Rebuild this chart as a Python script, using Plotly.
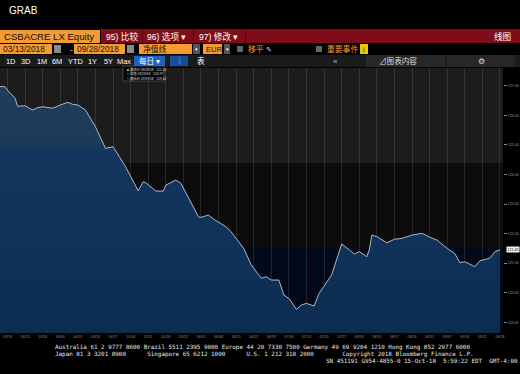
import plotly.graph_objects as go

# ---------------- data ----------------
dates = ["2018-03-13", "2018-03-15", "2018-03-16", "2018-03-19", "2018-03-20", "2018-03-23",
         "2018-03-26", "2018-03-28", "2018-03-30", "2018-04-03", "2018-04-06", "2018-04-09",
         "2018-04-11", "2018-04-13", "2018-04-16", "2018-04-20", "2018-04-24", "2018-04-27",
         "2018-05-02", "2018-05-04", "2018-05-07", "2018-05-09", "2018-05-10", "2018-05-14",
         "2018-05-17", "2018-05-18", "2018-05-22", "2018-05-24", "2018-05-28", "2018-05-31",
         "2018-06-01", "2018-06-04", "2018-06-06", "2018-06-11", "2018-06-13", "2018-06-18",
         "2018-06-21", "2018-06-25", "2018-06-27", "2018-06-29", "2018-07-02", "2018-07-04",
         "2018-07-06", "2018-07-09", "2018-07-11", "2018-07-13", "2018-07-16", "2018-07-18",
         "2018-07-23", "2018-07-25", "2018-07-27", "2018-07-30", "2018-08-01", "2018-08-03",
         "2018-08-06", "2018-08-07", "2018-08-08", "2018-08-10", "2018-08-13", "2018-08-14",
         "2018-08-17", "2018-08-20", "2018-08-24", "2018-08-28", "2018-08-31", "2018-09-03",
         "2018-09-07", "2018-09-10", "2018-09-12", "2018-09-14", "2018-09-18", "2018-09-20",
         "2018-09-24", "2018-09-26", "2018-09-28"]
values = [126.97, 126.97, 126.85, 126.58, 126.31, 126.32,
          126.18, 126.26, 126.29, 126.24, 126.35, 126.44,
          126.37, 126.35, 126.18, 125.61, 124.88, 124.94,
          124.26, 123.92, 123.45, 123.75, 123.72, 123.44,
          123.44, 123.64, 123.81, 123.70, 123.08, 122.57,
          122.55, 122.63, 122.49, 122.23, 122.06, 121.50,
          120.94, 120.49, 120.54, 120.43, 120.43, 119.92,
          119.81, 119.44, 119.59, 119.64, 119.55, 119.98,
          120.60, 121.11, 121.65, 121.45, 121.31, 121.39,
          121.22, 121.45, 121.95, 121.90, 121.73, 121.69,
          121.81, 121.84, 121.95, 122.01, 121.88, 121.78,
          121.50, 121.33, 121.02, 121.05, 120.88, 121.08,
          121.17, 121.39, 121.45]
y_ticks = [119, 120, 121, 122, 123, 124, 125, 126, 127]
y_tick_labels = ["%.2f" % v for v in y_ticks]
legend_lines = ["■ 最后价 09/28/18   121.45",
                "□ 高值 03/13/18   126.97",
                "□ 最低价 07/09/18   119.44"]
footer_lines = [
    "Australia 61 2 9777 8600 Brazil 5511 2395 9000 Europe 44 20 7330 7500 Germany 49 69 9204 1210 Hong Kong 852 2977 6000",
    "Japan 81 3 3201 8900      Singapore 65 6212 1000      U.S. 1 212 318 2000        Copyright 2018 Bloomberg Finance L.P.",
    "SN 451191 G954-4855-0 15-Oct-18  5:59:22 EDT  GMT-4:00",
]

# ---------------- geometry helpers ----------------
W, H = 520, 374
L, R, T, B = 0, 17, 68, 41
PW, PH = W - L - R, H - T - B
Y_RANGE = [118.64, 127.60]


def px(x):
    return (x - L) / PW


def py(y):
    return (H - B - y) / PH


shapes = []
annots = []


def rect(x0, y0, x1, y1, color, layer="above", line=None):
    shapes.append(dict(type="rect", xref="paper", yref="paper", x0=px(x0), x1=px(x1),
                       y0=py(y1), y1=py(y0), fillcolor=color, layer=layer,
                       line=line if line else dict(width=0)))


def text(x, y, s, size=10, color="white", anchor="left", family="Liberation Sans, Noto Sans CJK SC"):
    annots.append(dict(x=px(x), y=py(y), xref="paper", yref="paper", text=s, showarrow=False,
                       xanchor=anchor, yanchor="middle",
                       font=dict(size=size, color=color, family=family)))


ORANGE = "#f49b34"
RED = "#7e0d19"
DARK_TXT = "#1a1000"

# plot background bands
rect(0, T, PW, 163, "#1c1c1c", layer="below")
rect(0, 163, PW, 248, "#0c0c0c", layer="below")
rect(0, 248, PW, H - B, "#04091a", layer="below")

# ---------------- header ----------------
text(7, 10, "GRAB", size=10)

# row 1
rect(0, 30, 100, 43, ORANGE)
text(2, 36.5, "CSBACRE LX Equity", size=9.6, color="#111")
rect(101, 29, W, 43, RED)
for sx in [142, 193, 245]:
    rect(sx, 29, sx + 1, 43, "#5a0610")
text(104, 36, "95) 比较", size=8.6)
text(145, 36, "96) 选项 ▾", size=8.6)
text(197, 36, "97) 修改 ▾", size=8.6)
text(513, 36, "线图", size=8.6, anchor="right")

# row 2
rect(0, 44, 52, 54, ORANGE)
text(1, 49, "03/13/2018", size=8.4, color=DARK_TXT)
rect(54, 45, 61, 53, "#8a8a8a")
text(68, 49, "-", size=8)
rect(74, 44, 125, 54, ORANGE)
text(75, 49, "09/28/2018", size=8.4, color=DARK_TXT)
rect(127, 45, 134, 53, "#8a8a8a")
rect(139, 44, 192, 54, ORANGE)
text(141, 49, "净值线", size=7.8, color=DARK_TXT)
rect(193, 44, 200, 54, "#555")
text(196.5, 49, "▾", size=5, anchor="center")
rect(203, 44, 222, 54, ORANGE)
text(204, 49, "EUR", size=7.6, color=DARK_TXT)
rect(224, 44, 230, 54, "#555")
text(227, 49, "▾", size=5, anchor="center")
rect(237, 46, 243, 52, "#666")
text(246, 49, "移平", size=7.8, color=ORANGE)
text(264, 49, "✎", size=7, color="#ddd")
rect(316, 46, 322, 52, "#666")
text(325, 49, "重要事件", size=7.8, color=ORANGE)
rect(360, 44, 368, 54, "#e8c800")
text(364, 49, "i", size=7, color="#111", anchor="center")

# row 3
rect(0, 55, W, 67, "#1b1b1b")
rect(366, 55, 445, 67, "#282828")
rect(447, 55, 515, 67, "#282828")
for lab, xx in [("1D", 4), ("3D", 19), ("1M", 35), ("6M", 50), ("YTD", 66), ("1Y", 86),
                ("5Y", 102), ("Max", 115)]:
    text(xx, 61, lab, size=7.4)
rect(134, 56, 165, 66, "#1f62c4")
text(137, 61, "每日 ▾", size=7.6)
rect(170, 56, 188, 66, "#1a4d98")
text(179, 61, "⌇", size=7, color="#9cc3ff", anchor="center")
text(195, 61, "表", size=7.6)
text(335, 61, "«", size=8, color="#bbb", anchor="center")
text(377, 61, "⊿图表内容", size=7.6, color="#ddd")
text(481, 61, "⚙", size=8, color="#ddd", anchor="center")

# legend box
rect(123, 66, 164, 81, "#050505", line=dict(color="#6a6a6a", width=0.6))
for i, s in enumerate(legend_lines):
    text(125, 69.5 + i * 4.3, s, size=3.3, color="#ddd")

# footer
fam_mono = "DejaVu Sans Mono, Liberation Mono, monospace"
text(53, 347, footer_lines[0], size=5.9, color="#e8e8e8", family=fam_mono)
text(53, 354, footer_lines[1], size=5.9, color="#e8e8e8", family=fam_mono)
text(324, 361, footer_lines[2], size=5.9, color="#e8e8e8", family=fam_mono)

# current value label
annots.append(dict(x=1.0, y=values[-1], xref="paper", yref="y", text="%.2f" % values[-1],
                   showarrow=False, xanchor="left", yanchor="middle", xshift=3,
                   bgcolor="#f2f2f2", borderpad=0.5,
                   font=dict(size=3.6, color="#000", family="Liberation Sans")))

fig = go.Figure()
fig.add_trace(go.Scatter(
    x=dates, y=values, mode="lines",
    line=dict(color="#aeb8c4", width=1),
    fill="tozeroy",
    fillgradient=dict(type="vertical", start=Y_RANGE[0], stop=Y_RANGE[1],
                      colorscale=[[0.0, "#0c2c50"], [0.35, "#10325a"],
                                  [0.68, "#14365e"], [0.72, "#1d3a5a"],
                                  [1.0, "#223e5c"]]),
    hoverinfo="skip", showlegend=False,
))

fig.update_layout(
    width=W, height=H,
    margin=dict(l=L, r=R, t=T, b=B, pad=0),
    paper_bgcolor="#000000",
    plot_bgcolor="#04091a",
    shapes=shapes,
    annotations=annots,
    showlegend=False,
    xaxis=dict(
        type="date",
        range=["2018-03-13", "2018-09-29 05:00"],
        tick0="2018-03-16", dtick=7 * 86400000, tickformat="%m/%d",
        showgrid=True, gridcolor="rgba(255,255,255,0.11)", gridwidth=1,
        layer="above traces",
        tickfont=dict(size=3.6, color="#8c8c8c", family="Liberation Sans"),
        ticks="", zeroline=False, showline=False, fixedrange=True,
    ),
    yaxis=dict(
        side="right", range=Y_RANGE,
        tickvals=y_ticks, ticktext=y_tick_labels,
        tickfont=dict(size=3.6, color="#9a9a9a", family="Liberation Sans"),
        ticks="outside", ticklen=3, tickcolor="#888", tickwidth=0.6,
        showgrid=False, zeroline=False, showline=False, fixedrange=True,
    ),
)

fig.write_html("out.html")
